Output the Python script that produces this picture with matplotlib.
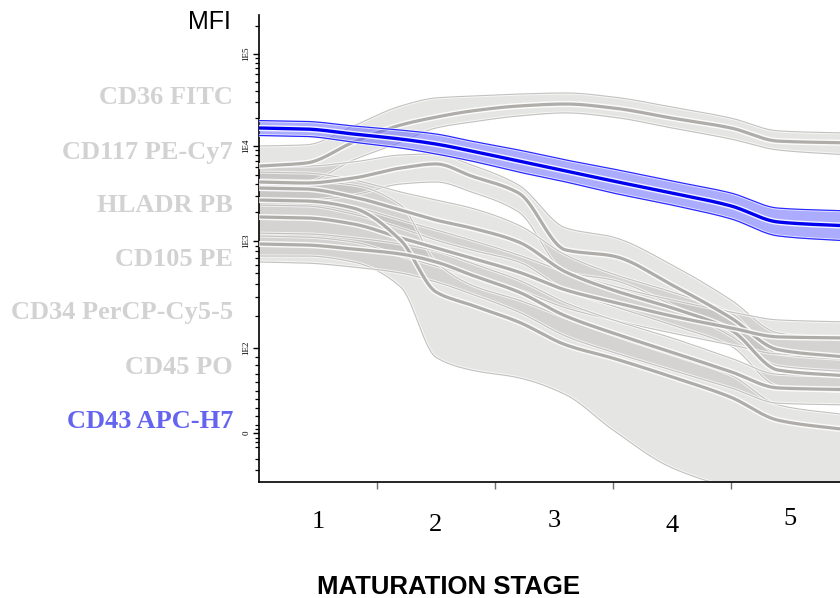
import numpy as np
import matplotlib
matplotlib.use("Agg")
import matplotlib.pyplot as plt
import matplotlib.patheffects as pe
from matplotlib.transforms import blended_transform_factory

# ---------------------------------------------------------------- data
stage_knots = [0, 0.4, 0.8, 1.2, 1.5, 1.8, 2.2, 2.6, 3.0, 3.5, 4.0, 4.4, 5.0]
stage_labels = ["1", "2", "3", "4", "5"]

cd36_mid = [6150, 6620, 11000, 16900, 20600, 24000, 27200, 28600, 25900, 20100, 15700, 11300, 10800]
cd36_hi = [10000, 10300, 16500, 27200, 33300, 34900, 36700, 37700, 34100, 26500, 20100, 14600, 13800]
cd36_lo = [3980, 4180, 7130, 11000, 15700, 18200, 21200, 22900, 20600, 15700, 11900, 9080, 8040]

cd117_mid = [4180, 4080, 4600, 5860, 6470, 4830, 3200, 824, 724, 388, 191, 98, 89]
cd117_hi = [6310, 6150, 6790, 8040, 8240, 6310, 3880, 1370, 1100, 597, 281, 138, 119]
cd117_lo = [2700, 2700, 3050, 3980, 4180, 3280, 2020, 513, 432, 252, 129, 79, 72]

hladr_mid = [3610, 3530, 2900, 2120, 1660, 1370, 979, 513, 348, 237, 147, 74, 67]
hladr_hi = [5320, 5200, 4390, 3280, 2700, 2220, 1470, 740, 492, 334, 212, 93, 86]
hladr_lo = [2390, 2340, 1920, 1370, 1020, 824, 637, 348, 247, 164, 104, 55, 48]

cd105_mid = [1790, 1750, 1510, 1080, 861, 693, 513, 348, 269, 199, 154, 127, 124]
cd105_hi = [2700, 2640, 2280, 1660, 1310, 1020, 740, 513, 380, 281, 217, 183, 175]
cd105_lo = [1130, 1100, 979, 724, 583, 471, 348, 237, 183, 138, 107, 93, 91]

cd34_mid = [2700, 2640, 2220, 1020, 334, 252, 175, 107, 88, 66, 42, 15, 3.5]
cd34_hi = [4390, 4280, 3880, 2390, 637, 388, 281, 191, 132, 92, 68, 33, 21]
cd34_lo = [724, 724, 637, 372, 89, 74, 65, 45, 3.5, -41, -64, -75, -79]

cd45_mid = [938, 918, 841, 756, 637, 481, 334, 199, 138, 95, 72, 53, 51]
cd45_hi = [1210, 1190, 1080, 938, 807, 622, 432, 264, 183, 124, 88, 69, 67]
cd45_lo = [637, 622, 571, 502, 414, 320, 217, 129, 95, 74, 53, 35, 33]

cd43_mid = [15700, 15300, 13500, 11900, 10500, 8860, 6950, 5460, 4280, 3200, 2340, 1585, 1440]
cd43_hi = [18900, 18500, 16500, 14900, 13500, 11300, 9080, 7130, 5730, 4280, 3200, 2220, 2070]
cd43_lo = [13000, 12700, 11000, 9530, 8240, 6950, 5320, 4180, 3200, 2390, 1710, 1130, 1000]

marker_names = ["CD36 FITC", "CD117 PE-Cy7", "HLADR PB", "CD105 PE",
                "CD34 PerCP-Cy5-5", "CD45 PO", "CD43 APC-H7"]

y_ticks = [0, 1e2, 1e3, 1e4, 1e5]
y_tick_labels = ["0", "1E2", "1E3", "1E4", "1E5"]

# ------------------------------------------------- bi-exponential axis
# linear segment around zero, log decades above 100
LIN_ZERO, LIN_SLOPE, LIN_TOP = 49.0, 0.85, 100.0
DEC_LOG = [2.0, 3.0, 4.0, 5.0, 5.4185, 8.0]
DEC_POS = [134.0, 241.0, 336.0, 428.0, 467.0, 707.0]


def to_pos(v):
    v = np.asarray(v, dtype=float)
    lin = LIN_ZERO + LIN_SLOPE * v
    lg = np.interp(np.log10(np.maximum(v, LIN_TOP)), DEC_LOG, DEC_POS)
    return np.where(v <= LIN_TOP, lin, lg)


def from_pos(p):
    p = np.asarray(p, dtype=float)
    lin = (p - LIN_ZERO) / LIN_SLOPE
    lg = 10 ** np.interp(p, DEC_POS, DEC_LOG)
    return np.where(p <= DEC_POS[0], lin, lg)


def pchip(x, y, xn):
    x = np.asarray(x, float)
    y = np.asarray(y, float)
    h = np.diff(x)
    d = np.diff(y) / h
    m = np.zeros_like(y)
    m[0], m[-1] = d[0], d[-1]
    for k in range(1, len(y) - 1):
        if d[k - 1] * d[k] > 0:
            w1 = 2 * h[k] + h[k - 1]
            w2 = h[k] + 2 * h[k - 1]
            m[k] = (w1 + w2) / (w1 / d[k - 1] + w2 / d[k])
    idx = np.clip(np.searchsorted(x, xn) - 1, 0, len(x) - 2)
    t = (xn - x[idx]) / h[idx]
    h00 = 2 * t**3 - 3 * t**2 + 1
    h10 = t**3 - 2 * t**2 + t
    h01 = -2 * t**3 + 3 * t**2
    h11 = t**3 - t**2
    return (h00 * y[idx] + h10 * h[idx] * m[idx]
            + h01 * y[idx + 1] + h11 * h[idx] * m[idx + 1])


xs = np.linspace(0, 5, 500)


def smooth(vals):
    return from_pos(pchip(stage_knots, to_pos(vals), xs))


# ---------------------------------------------------------------- figure
W, H = 840, 598
fig = plt.figure(figsize=(W / 100, H / 100), dpi=100)
ax = fig.add_axes([259 / W, 1 - 482 / H, 590 / W, 467 / H])
ax.set_yscale("function", functions=(to_pos, from_pos))
ax.set_xlim(0, 5)
ax.set_ylim(float(from_pos(0)), float(from_pos(467)))

halo = [pe.Stroke(linewidth=4.4, foreground="white", alpha=0.85), pe.Normal()]
edge_halo = [pe.Stroke(linewidth=2.2, foreground="white", alpha=0.7), pe.Normal()]

gray_series = [
    (cd36_lo, cd36_mid, cd36_hi),
    (cd117_lo, cd117_mid, cd117_hi),
    (hladr_lo, hladr_mid, hladr_hi),
    (cd105_lo, cd105_mid, cd105_hi),
    (cd34_lo, cd34_mid, cd34_hi),
    (cd45_lo, cd45_mid, cd45_hi),
]

for lo, mid, hi in gray_series:
    ylo, ymid, yhi = smooth(lo), smooth(mid), smooth(hi)
    ax.fill_between(xs, ylo, yhi, color="#b1b0ae", alpha=0.32, lw=0, zorder=1)
    for edge in (ylo, yhi):
        ax.plot(xs, edge, color="#c2c1bf", lw=0.8, zorder=2, path_effects=edge_halo)
    ax.plot(xs, ymid, color="#afada9", lw=2.3, zorder=3, path_effects=halo,
            solid_capstyle="butt")

# highlighted marker
blo, bmid, bhi = smooth(cd43_lo), smooth(cd43_mid), smooth(cd43_hi)
ax.fill_between(xs, blo, bhi, color="#5b5bff", alpha=0.5, lw=0, zorder=4)
for edge in (blo, bhi):
    ax.plot(xs, edge, color="#2a2aff", lw=0.9, zorder=5, path_effects=edge_halo)
ax.plot(xs, bmid, color="#0000f0", lw=2.4, zorder=6, path_effects=halo,
        solid_capstyle="butt")

# ---------------------------------------------------------------- axes
for side in ("top", "right"):
    ax.spines[side].set_visible(False)
ax.spines["left"].set_linewidth(1.2)
ax.spines["bottom"].set_linewidth(1.2)

ax.set_yticks(y_ticks)
ax.set_yticklabels(y_tick_labels, rotation=90, va="center",
                   family="Liberation Serif", fontsize=6.5)
minor = [m * 10**k for k in (2, 3, 4) for m in range(2, 10)] + [2e5]
minor += list(range(10, 100, 10)) + [-16, -11, -6, 5, -30, -44]
ax.set_yticks(minor, minor=True)
ax.tick_params(axis="y", which="major", length=4.5, width=1.0, pad=1.5)
ax.tick_params(axis="y", which="minor", length=2.6, width=0.9)

ax.set_xticks([1, 2, 3, 4])
ax.set_xticklabels([])
ax.tick_params(axis="x", length=5, width=1.0, color="#707070")

# stage numbers under the axis
stage_y = [522, 525, 521, 526, 519]
tr = blended_transform_factory(ax.transData, fig.transFigure)
for i, lab in enumerate(stage_labels):
    ax.text(i + 0.5, 1 - stage_y[i] / H, lab, transform=tr, ha="center",
            va="center", family="Liberation Serif", fontsize=19)

fig.text(449 / W, 1 - 587 / H, "MATURATION STAGE", ha="center", va="center",
         family="Liberation Sans", fontweight="bold", fontsize=18.5)
fig.text(209 / W, 1 - 22 / H, "MFI", ha="center", va="center",
         family="Liberation Sans", fontsize=18)

# marker names on the left
name_y = [97, 152, 205, 259, 313, 367, 421]
name_colors = ["#d2d2d2"] * 6 + ["#6464f0"]
for name, yy, col in zip(marker_names, name_y, name_colors):
    fig.text(233 / W, 1 - yy / H, name, ha="right", va="center",
             family="Liberation Serif", fontweight="bold", fontsize=19,
             color=col)

fig.savefig("out.png", dpi=100)
